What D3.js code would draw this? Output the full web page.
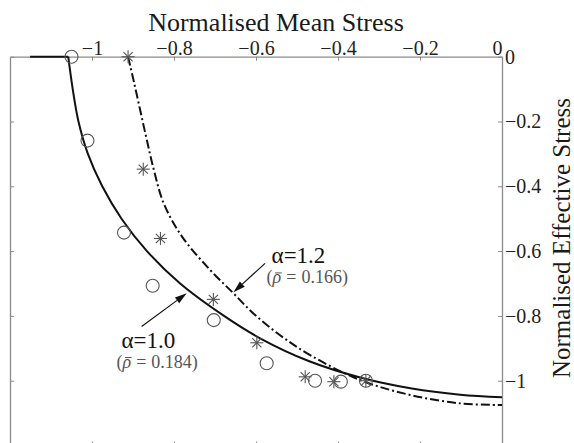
<!DOCTYPE html>
<html>
<head>
<meta charset="utf-8">
<script src="https://cdn.jsdelivr.net/npm/d3@7"></script>
<style>
  html, body { margin: 0; padding: 0; background: #fff; }
  svg { display: block; }
  svg text { font-family: "Liberation Serif", "DejaVu Serif", "Times New Roman", serif; }
</style>
</head>
<body>
<svg id="chart" width="574" height="443"></svg>
<script>
// Axis ticks
const xTicks = [-1, -0.8, -0.6, -0.4, -0.2, 0];
const xTickLabels = ["\u22121", "\u22120.8", "\u22120.6", "\u22120.4", "\u22120.2", "0"];
const yTicks = [-1, -0.8, -0.6, -0.4, -0.2, 0];
const yTickLabels = ["\u22121", "\u22120.8", "\u22120.6", "\u22120.4", "\u22120.2", "0"];

// Yield surface, alpha = 1.0 (solid): [mean stress, effective stress]
const surfaceA10Cap = [[-1.151, 0], [-1.058, 0]];
const surfaceA10 = [
  [-1.058, 0], [-1.047, -0.1], [-1.033, -0.2], [-1.010, -0.3], [-0.975, -0.4],
  [-0.928, -0.5], [-0.866, -0.6], [-0.785, -0.7], [-0.678, -0.8], [-0.590, -0.869],
  [-0.470, -0.940], [-0.346, -0.990], [-0.220, -1.024], [-0.102, -1.043], [0, -1.051]
];

// Yield surface, alpha = 1.2 (dash-dot)
const surfaceA12 = [
  [-0.912, 0], [-0.897, -0.082], [-0.870, -0.236], [-0.849, -0.350], [-0.825, -0.453],
  [-0.780, -0.556], [-0.712, -0.658], [-0.656, -0.729], [-0.605, -0.794], [-0.542, -0.859],
  [-0.468, -0.921], [-0.346, -0.998], [-0.224, -1.044], [-0.102, -1.070], [0, -1.075]
];

// Simulated points (circles: alpha = 1.0, asterisks: alpha = 1.2)
const circlePts = [
  [-1.050, 0], [-1.011, -0.259], [-0.922, -0.543], [-0.852, -0.707], [-0.703, -0.813],
  [-0.574, -0.946], [-0.456, -1.000], [-0.393, -1.003], [-0.332, -1.000]
];
const starPts = [
  [-0.912, 0], [-0.875, -0.347], [-0.833, -0.561], [-0.704, -0.749], [-0.598, -0.883],
  [-0.480, -0.988], [-0.410, -1.003], [-0.332, -1.000]
];

// Annotations: [tail, tip] of arrows and label anchors
const arrowA12 = [[-0.578, -0.638], [-0.655, -0.727]];
const arrowA10 = [[-0.879, -0.833], [-0.769, -0.730]];
const labelA12 = { x: -0.562, y: -0.638, title: "α=1.2", rho: "0.166" };
const labelA10 = { x: -0.928, y: -0.899, title: "α=1.0", rho: "0.184" };

const svg = d3.select("#chart");
const x = d3.scaleLinear().domain([-1.2, 0]).range([10, 502]);
const y = d3.scaleLinear().domain([0, -1.2]).range([56.7, 445.5]);

const frameColor = "#8a8a8a";
const serif = "'Liberation Serif', 'DejaVu Serif', 'Times New Roman', serif";

// Frame axes, ticks pointing inward
const fmt = (arr, labels) => (d) => labels[arr.indexOf(d)];
const axTop = svg.append("g").attr("transform", `translate(0,${y(0)})`)
  .call(d3.axisTop(x).tickValues(xTicks).tickFormat(fmt(xTicks, xTickLabels))
    .tickSizeInner(-4).tickSizeOuter(0).tickPadding(2));
const axBottom = svg.append("g").attr("transform", `translate(0,${y(-1.2)})`)
  .call(d3.axisBottom(x).tickValues(xTicks).tickFormat("")
    .tickSizeInner(-4).tickSizeOuter(0));
const axRight = svg.append("g").attr("transform", `translate(${x(0)},0)`)
  .call(d3.axisRight(y).tickValues(yTicks).tickFormat(fmt(yTicks, yTickLabels))
    .tickSizeInner(-4).tickSizeOuter(0).tickPadding(3));
const axLeft = svg.append("g").attr("transform", `translate(${x(-1.2)},0)`)
  .call(d3.axisLeft(y).tickValues(yTicks).tickFormat("")
    .tickSizeInner(-4).tickSizeOuter(0));

[axTop, axBottom, axRight, axLeft].forEach(g => {
  g.attr("font-family", serif).attr("font-size", 20);
  g.select(".domain").attr("stroke", frameColor).attr("stroke-width", 1.3);
  g.selectAll(".tick line").attr("stroke", frameColor).attr("stroke-width", 1);
  g.selectAll(".tick text")
    .attr("fill", "#222")
    .style("font-family", serif)
    .style("font-size", "20px");
});
// the zero of the mean-stress axis sits just left of the corner
axTop.selectAll(".tick text").filter(d => d === 0).attr("dx", -5);

// Axis titles
svg.append("text")
  .attr("x", 276).attr("y", 31)
  .attr("text-anchor", "middle")
  .attr("fill", "#1a1a1a")
  .style("font-family", serif)
  .style("font-size", "26px")
  .text("Normalised Mean Stress");

svg.append("text")
  .attr("transform", `translate(570,${238}) rotate(-90)`)
  .attr("text-anchor", "middle")
  .attr("fill", "#1a1a1a")
  .style("font-family", serif)
  .style("font-size", "25px")
  .text("Normalised Effective Stress");

// Surfaces
const line = d3.line().x(d => x(d[0])).y(d => y(d[1]));
const smooth = d3.line().x(d => x(d[0])).y(d => y(d[1])).curve(d3.curveCatmullRom.alpha(0.5));

svg.append("path").datum(surfaceA10Cap).attr("d", line)
  .attr("fill", "none").attr("stroke", "#111").attr("stroke-width", 2);
svg.append("path").datum(surfaceA10).attr("d", smooth)
  .attr("fill", "none").attr("stroke", "#111").attr("stroke-width", 2);
svg.append("path").datum(surfaceA12).attr("d", smooth)
  .attr("fill", "none").attr("stroke", "#111").attr("stroke-width", 2)
  .attr("stroke-dasharray", "9,3,2,3");

// Markers
const markColor = "#555";
svg.append("g").selectAll("circle").data(circlePts).join("circle")
  .attr("cx", d => x(d[0])).attr("cy", d => y(d[1])).attr("r", 6.5)
  .attr("fill", "none").attr("stroke", markColor).attr("stroke-width", 1.1);

const starArm = 6.5;
const starAngles = [0, 45, 90, 135];
const stars = svg.append("g").selectAll("g").data(starPts).join("g")
  .attr("transform", d => `translate(${x(d[0])},${y(d[1])})`);
starAngles.forEach(a => {
  const r = a * Math.PI / 180;
  stars.append("line")
    .attr("x1", -starArm * Math.cos(r)).attr("y1", -starArm * Math.sin(r))
    .attr("x2", starArm * Math.cos(r)).attr("y2", starArm * Math.sin(r))
    .attr("stroke", markColor).attr("stroke-width", 1.1);
});

// Annotation arrows
function arrow(pts) {
  const [t, h] = pts.map(p => [x(p[0]), y(p[1])]);
  const ang = Math.atan2(h[1] - t[1], h[0] - t[0]);
  const len = 12, half = 3.6;
  const bx = h[0] - len * Math.cos(ang), by = h[1] - len * Math.sin(ang);
  svg.append("line")
    .attr("x1", t[0]).attr("y1", t[1]).attr("x2", bx).attr("y2", by)
    .attr("stroke", "#111").attr("stroke-width", 1.2);
  const nx = -Math.sin(ang), ny = Math.cos(ang);
  svg.append("path")
    .attr("d", `M${h[0]},${h[1]}L${bx + nx * half},${by + ny * half}L${bx - nx * half},${by - ny * half}Z`)
    .attr("fill", "#111");
}
arrow(arrowA12);
arrow(arrowA10);

function label(l) {
  const px = x(l.x), py = y(l.y);
  svg.append("text").attr("x", px).attr("y", py)
    .attr("fill", "#111")
    .style("font-family", serif)
    .style("font-size", "23px").text(l.title);
  const by = py + 20;
  const t = svg.append("text").attr("x", px - 5).attr("y", by)
    .attr("fill", "#555")
    .style("font-family", serif)
    .style("font-size", "18px");
  t.append("tspan").text("(");
  t.append("tspan").style("font-style", "italic").text("ρ");
  t.append("tspan").attr("dx", 5).text("=");
  t.append("tspan").attr("dx", 5).text(l.rho + ")");
  // bar over rho
  const ext = t.node().getExtentOfChar(1);
  svg.append("line")
    .attr("x1", ext.x + 2.5).attr("x2", ext.x + ext.width + 0.5)
    .attr("y1", by - 10.5).attr("y2", by - 10.5)
    .attr("stroke", "#555").attr("stroke-width", 1);
}
label(labelA12);
label(labelA10);
</script>
</body>
</html>
